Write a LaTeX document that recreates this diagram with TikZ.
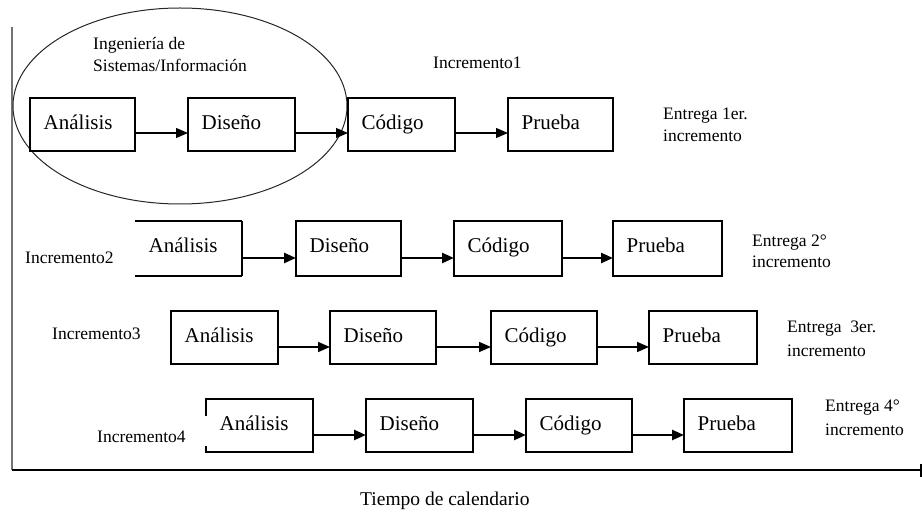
\documentclass[tikz,border=0pt]{standalone}
\usepackage{fontspec}
\setmainfont{Liberation Serif}
\usetikzlibrary{arrows.meta,calc,shapes.geometric}

% One stage of an increment: [style], name, left, top, right, bottom, label
\newcommand{\stage}[7][stagebox]{%
  \node[#1, anchor=north west, minimum width={(#5-#3)*1pt}, minimum height={(#6-#4)*1pt}] (#2) at (#3,#4) {};
  \node[stagetext] (#2t) at ($(#2.north west)+(13.5,31.5)$) {#7};}

\begin{document}
\begin{tikzpicture}[x=1pt,y=-1pt,
  stagebox/.style={draw=black, line width=1.2pt, inner sep=0pt, outer sep=0pt},
  openbox/.style={draw=none, inner sep=0pt, outer sep=0pt},
  stagetext/.style={font=\fontsize{21}{24}\selectfont, inner sep=0pt, anchor=base west},
  note/.style={font=\fontsize{17.5}{23}\selectfont, inner sep=0pt, anchor=base west, align=left},
  flow/.style={-{Triangle[length=12pt,width=10pt]}, draw=black},
  axis/.style={line width=2pt, draw=black},
]
\useasboundingbox (0,0) rectangle (922,518);

% axes
\coordinate (ytop) at (12,27);
\coordinate (origen) at (12,470);
\coordinate (xend) at (921,470);
\draw[axis, draw=black!55] (ytop) -- (origen);
\draw[axis] (origen) -- (xend);
\draw[line width=2.5pt] ([yshift=6pt]xend) -- ([yshift=-7pt]xend);

% systems / information engineering
\node[draw=black!85, line width=1pt, ellipse, minimum width=334pt, minimum height=196pt, inner sep=0pt] (ingenieria) at (180,106) {};
\node[note] (ingt) at (93,50) {Ingeniería de};
\node[note] (ingt2) at (93,72) {Sistemas/Información};

% increment 1
\node[note] (inc1) at (433,69) {Incremento1};
\stage{a1}{30}{98}{135}{151}{Análisis}
\stage{d1}{188}{98}{295}{151}{Diseño}
\stage{c1}{348}{98}{455}{151}{Código}
\stage{p1}{508}{98}{613}{151}{Prueba}
\draw[flow, line width=1.2pt] ([yshift=-8.5pt]a1.east) -- ([yshift=-8.5pt]d1.west);
\draw[flow, line width=1.2pt] ([yshift=-8.5pt]d1.east) -- ([yshift=-8.5pt]c1.west);
\draw[flow, line width=1.2pt] ([yshift=-8.5pt]c1.east) -- ([yshift=-8.5pt]p1.west);
\node[note] (e1) at (663,120) {Entrega 1er.};
\node[note] (e1b) at (663,142) {incremento};

% increment 2
\node[note] (inc2) at (25,264) {Incremento2};
\stage[openbox]{a2}{135}{221}{242}{276}{Análisis}
\draw[line width=1.2pt] (a2.north west) -- (a2.north east);
\draw[line width=1.2pt] (a2.south west) -- (a2.south east);
\draw[line width=2.2pt] (a2.north east) -- (a2.south east);
\stage{d2}{296}{221}{401}{276}{Diseño}
\stage{c2}{454}{221}{562}{276}{Código}
\stage{p2}{613}{221}{722}{276}{Prueba}
\draw[flow, line width=2.5pt] ([yshift=-9.5pt]a2.east) -- ([yshift=-9.5pt]d2.west);
\draw[flow, line width=2.5pt] ([yshift=-9.5pt]d2.east) -- ([yshift=-9.5pt]c2.west);
\draw[flow, line width=2.5pt] ([yshift=-9.5pt]c2.east) -- ([yshift=-9.5pt]p2.west);
\node[note] (e2) at (752,247) {Entrega 2°};
\node[note] (e2b) at (752,268) {incremento};

% increment 3
\node[note] (inc3) at (52,340) {Incremento3};
\stage{a3}{171}{311}{278}{364}{Análisis}
\stage{d3}{330}{311}{436}{364}{Diseño}
\stage{c3}{491}{311}{597}{364}{Código}
\stage{p3}{649}{311}{757}{364}{Prueba}
\draw[flow, line width=1.6pt] ([yshift=-9.5pt]a3.east) -- ([yshift=-9.5pt]d3.west);
\draw[flow, line width=1.6pt] ([yshift=-9.5pt]d3.east) -- ([yshift=-9.5pt]c3.west);
\draw[flow, line width=1.6pt] ([yshift=-9.5pt]c3.east) -- ([yshift=-9.5pt]p3.west);
\node[note] (e3) at (787,333) {Entrega \ 3er.};
\node[note] (e3b) at (787,357) {incremento};

% increment 4
\node[note] (inc4) at (97,443) {Incremento4};
\stage[openbox]{a4}{206}{399}{313}{452}{Análisis}
\draw[line width=1.2pt] ([yshift=-17pt]a4.north west) -- (a4.north west) -- (a4.north east) -- (a4.south east) -- (a4.south west) -- ([yshift=6pt]a4.south west);
\stage{d4}{366}{399}{473}{452}{Diseño}
\stage{c4}{526}{399}{632}{452}{Código}
\stage{p4}{684}{399}{792}{452}{Prueba}
\draw[flow, line width=2.5pt] ([yshift=-9.5pt]a4.east) -- ([yshift=-9.5pt]d4.west);
\draw[flow, line width=2.5pt] ([yshift=-9.5pt]d4.east) -- ([yshift=-9.5pt]c4.west);
\draw[flow, line width=2.5pt] ([yshift=-9.5pt]c4.east) -- ([yshift=-9.5pt]p4.west);
\node[note] (e4) at (825,412) {Entrega 4°};
\node[note] (e4b) at (825,436) {incremento};

% time axis label
\node[font=\fontsize{19.5}{24}\selectfont, inner sep=0pt, anchor=base west] (tiempo) at (360,506) {Tiempo de calendario};
\end{tikzpicture}
\end{document}
